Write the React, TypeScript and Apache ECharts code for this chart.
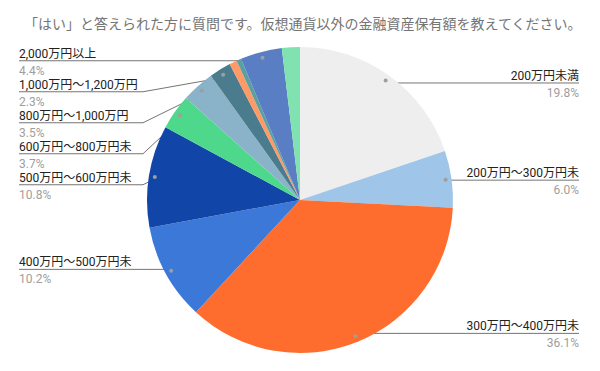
import React, { useEffect, useRef } from "react";
import * as echarts from "echarts";

const titleText =
  "「はい」と答えられた方に質問です。仮想通貨以外の金融資産保有額を教えてください。";

const categories = [
  "200万円未満",
  "200万円～300万円未",
  "300万円～400万円未",
  "400万円～500万円未",
  "500万円～600万円未",
  "600万円～800万円未",
  "800万円～1,000万円",
  "1,000万円～1,200万円",
  "1,200万円～1,500万円",
  "1,500万円～2,000万円",
  "2,000万円以上",
  "わからない",
];
const values = [19.8, 6.0, 36.1, 10.2, 10.8, 3.7, 3.5, 2.3, 0.8, 0.5, 4.4, 1.9];
const showLabel = [true, true, true, true, true, true, true, true, false, false, true, false];
const colors = [
  "#eeeeee",
  "#9fc5e8",
  "#ff6d2e",
  "#3c78d8",
  "#1146a8",
  "#4dd88b",
  "#8ab2c8",
  "#4a7c8e",
  "#ff9966",
  "#5aa0a0",
  "#5a7ec4",
  "#7fe2b0",
];

// layout constants
const CX = 300;
const CY = 200;
const R = 153;
const DOT_R = 144;
const LEFT_X = 19;
const RIGHT_X = 579;
const LEFT_KNEE = 143;
const RIGHT_KNEE = 457;
const GAP = 31;

const total = values.reduce((a, b) => a + b, 0);
let acc = 0;
const mids = values.map((v) => {
  const m = ((acc + v / 2) / total) * 2 * Math.PI;
  acc += v;
  return m;
});
const dots = mids.map((a) => [CX + DOT_R * Math.sin(a), CY - DOT_R * Math.cos(a)]);
const sides = mids.map((a) => (a > Math.PI ? "left" : "right"));
const labelY = dots.map((d) => d[1]);
(["left", "right"] as const).forEach((s) => {
  const idx = values
    .map((_, i) => i)
    .filter((i) => showLabel[i] && sides[i] === s)
    .sort((a, b) => dots[a][1] - dots[b][1]);
  for (let k = 1; k < idx.length; k++) {
    labelY[idx[k]] = Math.max(labelY[idx[k]], labelY[idx[k - 1]] + GAP);
  }
});

const FONT = "Roboto, 'Noto Sans CJK JP', sans-serif";

export default function App() {
  const ref = useRef<HTMLDivElement>(null);
  useEffect(() => {
    if (!ref.current) return;
    const chart = echarts.init(ref.current, null, { renderer: "svg" });
    chart.setOption({
      animation: false,
      backgroundColor: "#ffffff",
      title: {
        text: titleText,
        left: 19,
        top: 11,
        textStyle: {
          fontSize: 14,
          fontWeight: "normal",
          color: "#757575",
          fontFamily: "'Noto Sans CJK JP', sans-serif",
        },
      },
      series: [
        {
          type: "pie",
          center: [CX, CY],
          radius: [0, R],
          startAngle: 90,
          clockwise: true,
          avoidLabelOverlap: false,
          silent: true,
          label: {
            show: true,
            position: "outside",
            fontFamily: FONT,
            formatter: (p: any) => {
              const s = sides[p.dataIndex] === "left" ? "L" : "R";
              return `{n${s}|${p.name}}\n{p${s}|${Number(p.value).toFixed(1)}%}`;
            },
            rich: {
              nL: { fontSize: 12, color: "#222222", lineHeight: 20, align: "left", fontFamily: FONT },
              pL: { fontSize: 12, color: "#9e9e9e", lineHeight: 14, align: "left", fontFamily: FONT },
              nR: { fontSize: 12, color: "#222222", lineHeight: 20, align: "right", fontFamily: FONT },
              pR: { fontSize: 12, color: "#9e9e9e", lineHeight: 14, align: "right", fontFamily: FONT },
            },
          },
          labelLine: {
            show: true,
            lineStyle: { color: "#757575", width: 1 },
          },
          labelLayout: (params: any) => {
            const i = params.dataIndex;
            if (!showLabel[i]) return {};
            const left = sides[i] === "left";
            const y = labelY[i];
            return {
              x: left ? LEFT_X : RIGHT_X,
              y,
              align: left ? "left" : "right",
              verticalAlign: "middle",
              labelLinePoints: [
                [dots[i][0], dots[i][1]],
                [left ? LEFT_KNEE : RIGHT_KNEE, y],
                [left ? LEFT_X : RIGHT_X, y],
              ],
            };
          },
          data: values.map((v, i) => ({
            name: categories[i],
            value: v,
            itemStyle: { color: colors[i] },
            label: { show: showLabel[i] },
            labelLine: { show: showLabel[i] },
          })),
        },
        {
          type: "pie",
          center: [CX, CY],
          radius: [DOT_R - 9, DOT_R + 9],
          startAngle: 90,
          clockwise: true,
          silent: true,
          z: 3,
          itemStyle: { color: "rgba(0,0,0,0)" },
          label: {
            show: true,
            position: "inside",
            formatter: "{d| }",
            rich: {
              d: { width: 4, height: 4, borderRadius: 2, backgroundColor: "#9e9e9e", fontSize: 1, lineHeight: 4 },
            },
          },
          labelLine: { show: false },
          data: values.map((v, i) => ({
            name: categories[i],
            value: v,
            label: { show: showLabel[i] },
          })),
        },
      ],
    });
    return () => chart.dispose();
  }, []);
  return (
    <div
      ref={ref}
      style={{ position: "absolute", left: 0, top: 0, width: 600, height: 371 }}
    />
  );
}
